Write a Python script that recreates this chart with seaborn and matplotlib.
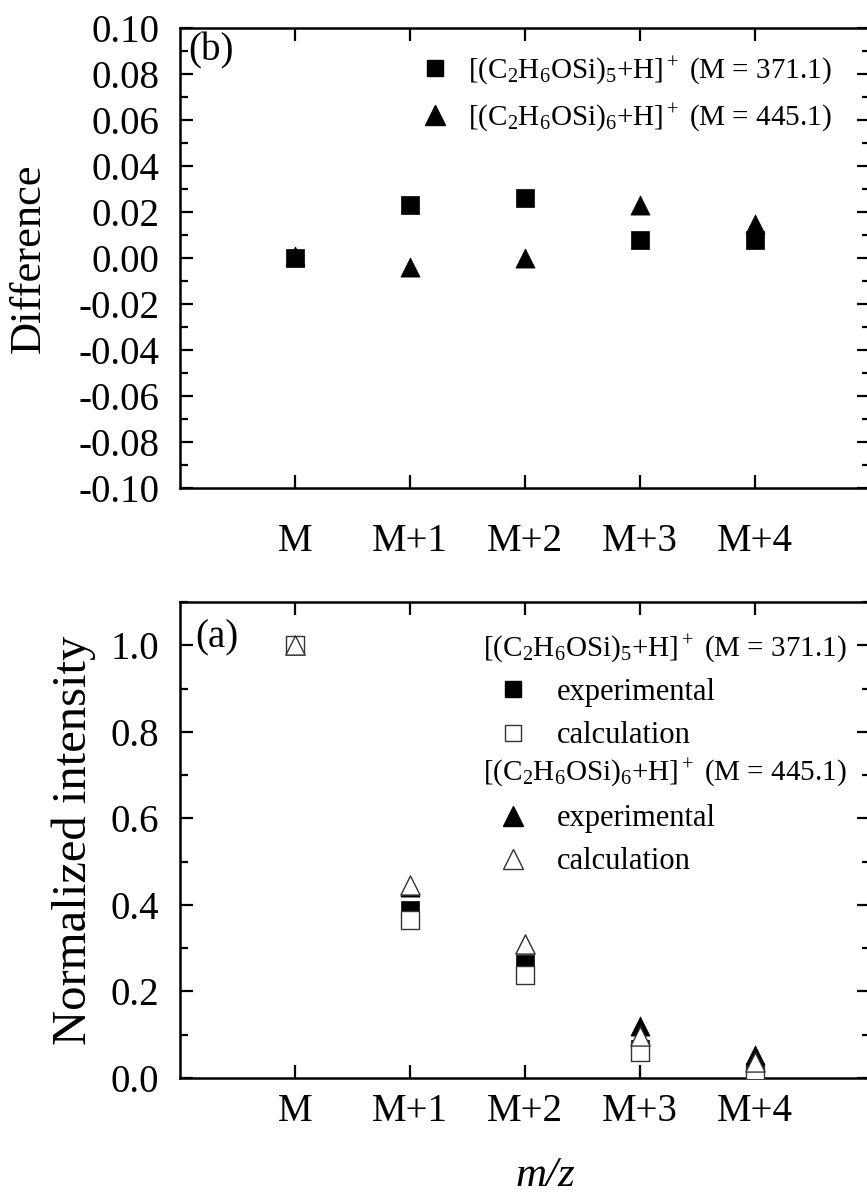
import matplotlib
matplotlib.use('Agg')
import matplotlib.pyplot as plt
import pandas as pd
import seaborn as sns
from matplotlib.lines import Line2D
from matplotlib.ticker import MultipleLocator, FuncFormatter

# data
peaks = ['M', 'M+1', 'M+2', 'M+3', 'M+4']
diff_5 = [0.000, 0.023, 0.026, 0.008, 0.008]
diff_6 = [0.001, -0.004, 0.000, 0.023, 0.015]
exp_5 = [1.000, 0.388, 0.263, 0.067, 0.013]
calc_5 = [1.000, 0.365, 0.237, 0.059, 0.005]
exp_6 = [1.000, 0.442, 0.309, 0.121, 0.052]
calc_6 = [1.000, 0.446, 0.309, 0.098, 0.037]

lab5 = r'[(C$_2$H$_6$OSi)$_5$+H]$^+$ (M = 371.1)'
lab6 = r'[(C$_2$H$_6$OSi)$_6$+H]$^+$ (M = 445.1)'

sns.set_style('ticks')
plt.rcParams['font.family'] = ['Liberation Serif', 'DejaVu Serif']
plt.rcParams['mathtext.fontset'] = 'custom'
plt.rcParams['mathtext.rm'] = 'Liberation Serif'
plt.rcParams['mathtext.it'] = 'Liberation Serif:italic'
plt.rcParams['axes.unicode_minus'] = False
for k in ['axes.edgecolor', 'xtick.color', 'ytick.color', 'text.color',
          'axes.labelcolor']:
    plt.rcParams[k] = 'black'

fig = plt.figure(figsize=(8.67, 12), dpi=100)
ax_b = fig.add_axes([180/867, 1 - 488/1200, 690/867, 460/1200])
ax_a = fig.add_axes([180/867, 1 - 1078/1200, 690/867, 476/1200])

df_b = pd.DataFrame({'peak': peaks, 'd5': diff_5, 'd6': diff_6})
df_a = pd.DataFrame({'peak': peaks, 'e5': exp_5, 'c5': calc_5,
                     'e6': exp_6, 'c6': calc_6})

sq = 150
tri = 190

#panel b
sns.scatterplot(data=df_b, x='peak', y='d5', marker='s', s=sq, color='black',
                edgecolor='black', linewidth=0.5, ax=ax_b, zorder=3)
sns.scatterplot(data=df_b, x='peak', y='d6', marker='^', s=tri, color='black',
                edgecolor='black', linewidth=0.5, ax=ax_b, zorder=3)

#panel a
sns.scatterplot(data=df_a, x='peak', y='e5', marker='s', s=sq, color='black',
                edgecolor='black', linewidth=0.5, ax=ax_a, zorder=3)
sns.scatterplot(data=df_a, x='peak', y='e6', marker='^', s=tri, color='black',
                edgecolor='black', linewidth=0.5, ax=ax_a, zorder=3)
sns.scatterplot(data=df_a, x='peak', y='c5', marker='s', s=sq, color='white',
                edgecolor='#333333', linewidth=1.0, ax=ax_a, zorder=4)
sns.scatterplot(data=df_a, x='peak', y='c6', marker='^', s=tri, color='white',
                edgecolor='#333333', linewidth=1.0, ax=ax_a, zorder=5)

for ax in (ax_b, ax_a):
    ax.set_xlim(-1, 5)
    ax.tick_params(axis='both', which='both', direction='in', top=True, right=True,
                   labelsize=28, width=1.6, colors='black')
    ax.tick_params(axis='both', which='major', length=9.5)
    ax.tick_params(axis='y', which='minor', length=5.5)
    ax.tick_params(axis='y', which='major', pad=15)
    for sp in ax.spines.values():
        sp.set_linewidth(1.8)
        sp.set_color('black')
    ax.set_xlabel('')

ax_b.tick_params(axis='x', which='major', pad=25)
ax_a.tick_params(axis='x', which='major', pad=11)

ax_b.set_ylim(-0.1, 0.1)
ax_b.yaxis.set_major_locator(MultipleLocator(0.02))
ax_b.yaxis.set_minor_locator(MultipleLocator(0.01))
ax_b.yaxis.set_major_formatter(FuncFormatter(lambda v, p: '0.00' if abs(v) < 1e-9 else f'{v:.2f}'))
ax_b.set_ylabel('Difference', fontsize=32)
ax_b.yaxis.set_label_coords(-0.19, 0.5)
ax_b.text(0.012, 0.95, '(b)', transform=ax_b.transAxes, fontsize=28, va='center')

ax_a.set_ylim(0, 1.1)
ax_a.yaxis.set_major_locator(MultipleLocator(0.2))
ax_a.yaxis.set_minor_locator(MultipleLocator(0.1))
ax_a.yaxis.set_major_formatter(FuncFormatter(lambda v, p: f'{v:.1f}'))
ax_a.set_ylabel('Normalized intensity', fontsize=35)
ax_a.yaxis.set_label_coords(-0.122, 0.5)
ax_a.set_xlabel('m/z', fontsize=31, fontstyle='italic')
ax_a.xaxis.set_label_coords(0.53, -0.165)
ax_a.text(0.022, 0.924, '(a)', transform=ax_a.transAxes, fontsize=28, va='center')

#legends
def h(marker, face, edge, ms):
    return Line2D([], [], linestyle='none', marker=marker, markersize=ms,
                  markerfacecolor=face, markeredgecolor=edge, markeredgewidth=1.0)

ax_b.legend([h('s', 'black', 'black', 12), h('^', 'black', 'black', 14)],
            [lab5, lab6], loc='upper left', bbox_to_anchor=(0.348, 0.943),
            frameon=False, fontsize=21, handlelength=1.05, handletextpad=0.6,
            borderpad=0, borderaxespad=0, labelspacing=0.5)

ax_a.text(0.439, 0.903, lab5, transform=ax_a.transAxes, fontsize=21, va='center')
ax_a.text(0.439, 0.641, lab6, transform=ax_a.transAxes, fontsize=21, va='center')
leg1 = ax_a.legend([h('s', 'black', 'black', 12), h('s', 'white', '#333333', 12)],
                   ['experimental', 'calculation'], loc='upper left',
                   bbox_to_anchor=(0.461, 0.840), frameon=False, fontsize=22,
                   handlelength=1.0, handletextpad=0.93, borderpad=0,
                   borderaxespad=0, labelspacing=0.46)
ax_a.add_artist(leg1)
ax_a.legend([h('^', 'black', 'black', 14), h('^', 'white', '#333333', 14)],
            ['experimental', 'calculation'], loc='upper left',
            bbox_to_anchor=(0.461, 0.575), frameon=False, fontsize=22,
            handlelength=1.0, handletextpad=0.93, borderpad=0,
            borderaxespad=0, labelspacing=0.46)

fig.savefig('out.png', dpi=100)
